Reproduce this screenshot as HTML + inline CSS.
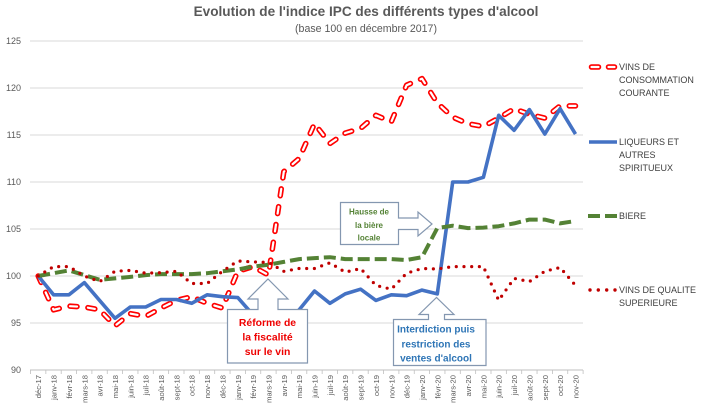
<!DOCTYPE html>
<html>
<head>
<meta charset="utf-8">
<style>
html,body{margin:0;padding:0;background:#fff;}
svg{display:block;}
text{font-family:"Liberation Sans",Arial,sans-serif;}
</style>
</head>
<body>
<svg width="705" height="405" viewBox="0 0 705 405" xmlns="http://www.w3.org/2000/svg">
<rect width="705" height="405" fill="#fff"/>

<!-- Title -->
<text x="366" y="16" text-anchor="middle" font-size="13.6" font-weight="bold" fill="#595959">Evolution de l'indice IPC des différents types d'alcool</text>
<text x="366" y="32" text-anchor="middle" font-size="10.6" fill="#595959">(base 100 en décembre 2017)</text>

<!-- Gridlines -->
<g stroke="#d9d9d9" stroke-width="1">
<line x1="30" y1="41" x2="583" y2="41"/>
<line x1="30" y1="88" x2="583" y2="88"/>
<line x1="30" y1="135" x2="583" y2="135"/>
<line x1="30" y1="182" x2="583" y2="182"/>
<line x1="30" y1="229" x2="583" y2="229"/>
<line x1="30" y1="276" x2="583" y2="276"/>
<line x1="30" y1="323" x2="583" y2="323"/>
</g>
<line x1="30" y1="370" x2="583" y2="370" stroke="#bfbfbf" stroke-width="1"/>
<line x1="30" y1="372" x2="584" y2="372" stroke="#bfbfbf" stroke-width="4" stroke-dasharray="0.8 14.55" transform="translate(0.1,0)"/>

<!-- Y labels -->
<g font-size="9" fill="#595959" text-anchor="end">
<text x="21" y="44">125</text>
<text x="21" y="91">120</text>
<text x="21" y="138">115</text>
<text x="21" y="185">110</text>
<text x="21" y="232">105</text>
<text x="21" y="279">100</text>
<text x="21" y="326">95</text>
<text x="21" y="373">90</text>
</g>

<!-- X labels -->
<g font-size="7.6" fill="#595959" text-anchor="end">
<text transform="translate(41.2,375) rotate(-90)">déc-17</text>
<text transform="translate(56.6,375) rotate(-90)">janv-18</text>
<text transform="translate(71.9,375) rotate(-90)">févr-18</text>
<text transform="translate(87.3,375) rotate(-90)">mars-18</text>
<text transform="translate(102.6,375) rotate(-90)">avr-18</text>
<text transform="translate(118,375) rotate(-90)">mai-18</text>
<text transform="translate(133.3,375) rotate(-90)">juin-18</text>
<text transform="translate(148.7,375) rotate(-90)">juil-18</text>
<text transform="translate(164,375) rotate(-90)">août-18</text>
<text transform="translate(179.4,375) rotate(-90)">sept-18</text>
<text transform="translate(194.7,375) rotate(-90)">oct-18</text>
<text transform="translate(210.1,375) rotate(-90)">nov-18</text>
<text transform="translate(225.4,375) rotate(-90)">déc-18</text>
<text transform="translate(240.8,375) rotate(-90)">janv-19</text>
<text transform="translate(256.1,375) rotate(-90)">févr-19</text>
<text transform="translate(271.5,375) rotate(-90)">mars-19</text>
<text transform="translate(286.8,375) rotate(-90)">avr-19</text>
<text transform="translate(302.2,375) rotate(-90)">mai-19</text>
<text transform="translate(317.5,375) rotate(-90)">juin-19</text>
<text transform="translate(332.9,375) rotate(-90)">juil-19</text>
<text transform="translate(348.2,375) rotate(-90)">août-19</text>
<text transform="translate(363.6,375) rotate(-90)">sept-19</text>
<text transform="translate(378.9,375) rotate(-90)">oct-19</text>
<text transform="translate(394.3,375) rotate(-90)">nov-19</text>
<text transform="translate(409.6,375) rotate(-90)">déc-19</text>
<text transform="translate(425,375) rotate(-90)">janv-20</text>
<text transform="translate(440.3,375) rotate(-90)">févr-20</text>
<text transform="translate(455.7,375) rotate(-90)">mars-20</text>
<text transform="translate(471,375) rotate(-90)">avr-20</text>
<text transform="translate(486.4,375) rotate(-90)">mai-20</text>
<text transform="translate(501.7,375) rotate(-90)">juin-20</text>
<text transform="translate(517.1,375) rotate(-90)">juil-20</text>
<text transform="translate(532.4,375) rotate(-90)">août-20</text>
<text transform="translate(547.8,375) rotate(-90)">sept-20</text>
<text transform="translate(563.1,375) rotate(-90)">oct-20</text>
<text transform="translate(578.5,375) rotate(-90)">nov-20</text>
</g>

<!-- Series: Vins de consommation courante (red double dashed) -->
<g fill="none" stroke-linejoin="round" stroke-linecap="round">
<polyline stroke="#ff0000" stroke-width="5.5" stroke-dasharray="7 11" points="38.2,276 53.6,309.8 68.9,306.1 84.3,307 99.6,309.8 115,325.8 130.3,313.6 145.7,316.4 161,308 176.4,300.4 191.7,296.7 207.1,303.3 222.4,308 237.8,271.3 253.1,266.6 268.5,275.1 283.8,171.7 299.2,158.5 314.5,123.7 329.9,143.5 345.2,133.1 360.6,128.4 375.9,115.3 391.3,121.8 406.6,85.2 422,78.6 437.3,103 452.7,117.1 468,123.7 483.4,126.5 498.7,118.1 514.1,108.7 529.4,114.3 544.8,118.1 560.1,105.9 575.5,105.9"/>
<polyline stroke="#ffffff" stroke-width="2.2" stroke-dasharray="7 11" points="38.2,276 53.6,309.8 68.9,306.1 84.3,307 99.6,309.8 115,325.8 130.3,313.6 145.7,316.4 161,308 176.4,300.4 191.7,296.7 207.1,303.3 222.4,308 237.8,271.3 253.1,266.6 268.5,275.1 283.8,171.7 299.2,158.5 314.5,123.7 329.9,143.5 345.2,133.1 360.6,128.4 375.9,115.3 391.3,121.8 406.6,85.2 422,78.6 437.3,103 452.7,117.1 468,123.7 483.4,126.5 498.7,118.1 514.1,108.7 529.4,114.3 544.8,118.1 560.1,105.9 575.5,105.9"/>
</g>

<!-- Liqueurs (blue) -->
<polyline fill="none" stroke="#4472c4" stroke-width="3.6" stroke-linejoin="round" points="38.2,276 53.6,294.8 68.9,294.8 84.3,282.6 99.6,300.4 115,318.3 130.3,307 145.7,307 161,299.5 176.4,299.5 191.7,303.3 207.1,294.8 222.4,296.7 237.8,297.6 253.1,315 268.5,323 283.8,323 299.2,309.8 314.5,291 329.9,303.3 345.2,293.9 360.6,289.2 375.9,300.4 391.3,294.8 406.6,295.7 422,290.1 437.3,293.9 452.7,182 468,182 483.4,177.3 498.7,115.3 514.1,130.3 529.4,109.6 544.8,134.1 560.1,108.7 575.5,134.1"/>

<!-- Biere (green dashed) -->
<polyline fill="none" stroke="#548235" stroke-width="4" stroke-dasharray="12 5" stroke-linejoin="round" points="38.2,276 53.6,273.2 68.9,270.4 84.3,275.1 99.6,279.8 115,278.4 130.3,276.9 145.7,275.1 161,274.1 176.4,274.1 191.7,274.1 207.1,273.2 222.4,271.3 237.8,269.4 253.1,266.6 268.5,264.7 283.8,261.9 299.2,259.1 314.5,258.1 329.9,257.2 345.2,259.1 360.6,259.1 375.9,259.1 391.3,259.1 406.6,260 422,257.2 437.3,228.1 452.7,225.7 468,228.1 483.4,227.6 498.7,226.2 514.1,223.4 529.4,219.6 544.8,219.6 560.1,223.4 575.5,221"/>

<!-- Vins de qualite superieure (dotted) -->
<polyline fill="none" stroke="#c00000" stroke-width="3.2" stroke-dasharray="0 7.7" stroke-linecap="round" stroke-linejoin="round" points="38.2,276 53.6,266.6 68.9,266.6 84.3,276 99.6,281.6 115,271.3 130.3,270.4 145.7,273.2 161,272.7 176.4,271.3 191.7,283.5 207.1,283.5 222.4,271.3 237.8,261 253.1,261.9 268.5,262.4 283.8,271.3 299.2,268.5 314.5,268.5 329.9,262.8 345.2,272.2 360.6,268.5 375.9,285.4 391.3,289.2 406.6,273.2 422,268.5 437.3,269 452.7,266.6 468,266.6 483.4,266.6 498.7,300.4 514.1,278.4 529.4,281.6 544.8,271.3 560.1,267.5 575.5,285.4"/>

<!-- Callouts -->
<g fill="#ffffff" stroke="#8497b0" stroke-width="1.2" stroke-linejoin="miter">
<polygon points="227.5,309.5 258,309.5 258,299 248,299 268,279 288,299 278,299 278,309.5 307.5,309.5 307.5,363 227.5,363"/>
<polygon points="393.5,319.5 428.5,319.5 428.5,314.5 419,314.5 436.5,297.5 454,314.5 444.5,314.5 444.5,319.5 486,319.5 486,365.5 393.5,365.5"/>
<polygon points="340.5,202.5 398.5,202.5 398.5,218 418,218 418,212 432,224 418,236 418,229.5 398.5,229.5 398.5,244.5 340.5,244.5"/>
</g>
<g font-size="10.4" font-weight="bold" fill="#ee0000" text-anchor="middle">
<text x="267.5" y="326">Réforme de</text>
<text x="267.5" y="340.5">la fiscalité</text>
<text x="267.5" y="355">sur le vin</text>
</g>
<g font-size="10" font-weight="bold" fill="#2e75b6" text-anchor="middle">
<text x="436" y="332.5">Interdiction puis</text>
<text x="436" y="347.5">restriction des</text>
<text x="436" y="361.5">ventes d'alcool</text>
</g>
<g font-size="8" font-weight="bold" fill="#548235" text-anchor="middle">
<text x="369" y="214.5">Hausse de</text>
<text x="369" y="228">la bière</text>
<text x="369" y="240.5">locale</text>
</g>

<!-- Legend -->
<g stroke-linecap="round">
<line x1="591.5" y1="67" x2="598.5" y2="67" stroke="#ff0000" stroke-width="5.5"/>
<line x1="608.5" y1="67" x2="614.5" y2="67" stroke="#ff0000" stroke-width="5.5"/>
<line x1="591.5" y1="67" x2="598.5" y2="67" stroke="#fff" stroke-width="2.2"/>
<line x1="608.5" y1="67" x2="614.5" y2="67" stroke="#fff" stroke-width="2.2"/>
</g>
<line x1="589" y1="142" x2="617" y2="142" stroke="#4472c4" stroke-width="3.6"/>
<line x1="588" y1="216" x2="600" y2="216" stroke="#548235" stroke-width="4"/>
<line x1="605" y1="216" x2="617" y2="216" stroke="#548235" stroke-width="4"/>
<g fill="#c00000">
<circle cx="590" cy="290" r="1.7"/>
<circle cx="598.3" cy="290" r="1.7"/>
<circle cx="606.7" cy="290" r="1.7"/>
<circle cx="615" cy="290" r="1.7"/>
</g>
<g font-size="9" fill="#3f3f3f">
<text x="619" y="70">VINS DE</text>
<text x="619" y="83">CONSOMMATION</text>
<text x="619" y="96">COURANTE</text>
<text x="619" y="145">LIQUEURS ET</text>
<text x="619" y="158">AUTRES</text>
<text x="619" y="171">SPIRITUEUX</text>
<text x="619" y="219">BIERE</text>
<text x="619" y="293">VINS DE QUALITE</text>
<text x="619" y="306">SUPERIEURE</text>
</g>
</svg>
</body>
</html>
